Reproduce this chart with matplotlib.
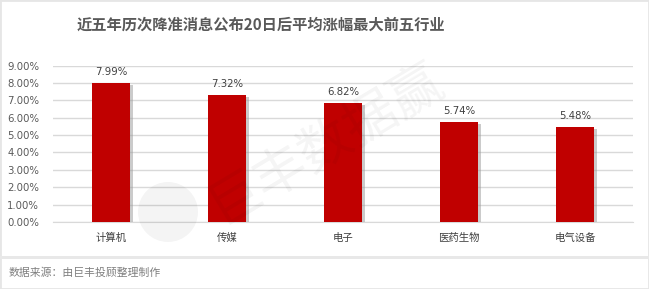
import matplotlib.pyplot as plt
import matplotlib.patheffects as pe
from matplotlib.patches import Rectangle, Ellipse

plt.rcParams['font.family'] = ['Noto Sans CJK SC', 'DejaVu Sans']

industries = ['计算机', '传媒', '电子', '医药生物', '电气设备']
avg_gain = [7.99, 7.32, 6.82, 5.74, 5.48]
y_ticks = [0, 1, 2, 3, 4, 5, 6, 7, 8, 9]

fig = plt.figure(figsize=(6.49, 2.89), dpi=100)

# outer frame and separator band
fig.patches.append(Rectangle((0, 0), 1, 1, transform=fig.transFigure,
                             fill=False, edgecolor='#e6e6e6', linewidth=2))
fig.patches.append(Rectangle((0, 1 - 259 / 289), 1, 3.5 / 289, transform=fig.transFigure,
                             facecolor='#e8e8e8', edgecolor='none'))

ax = fig.add_axes([53 / 649, 1 - 222 / 289, 580 / 649, 156.5 / 289])
x = range(len(industries))
bars = ax.bar(x, avg_gain, width=0.32, color='#c00000', zorder=3)
for b in bars:
    b.set_path_effects([pe.SimplePatchShadow(offset=(2.5, -1.5), shadow_rgbFace='#999999', alpha=0.5),
                        pe.Normal()])
for xi, v in zip(x, avg_gain):
    ax.text(xi, v + 0.35, f'{v:.2f}%', ha='center', va='bottom', fontsize=7.3,
            color='#404040', family='DejaVu Sans')

ax.set_xlim(-0.5, len(industries) - 0.5)
ax.set_ylim(0, 9)
ax.set_yticks(y_ticks)
ax.set_yticklabels([f'{t:.2f}%' for t in y_ticks], fontsize=7.3, color='#595959',
                   family='DejaVu Sans')
ax.set_xticks(list(x))
ax.set_xticklabels(industries, fontsize=7.5, color='#404040')
ax.tick_params(length=0, pad=8)
ax.tick_params(axis='y', pad=10)
ax.grid(axis='y', color='#d9d9d9', linewidth=1, zorder=0)
for s in ['top', 'right', 'left']:
    ax.spines[s].set_visible(False)
ax.spines['bottom'].set_color('#d9d9d9')

# watermark
fig.text(325 / 649, 1 - 142 / 289, '巨丰数据赢', fontsize=38, color='#000000', alpha=0.045,
         rotation=31, ha='center', va='center')
fig.patches.append(Ellipse((168 / 649, 1 - 212 / 289), 60 / 649, 60 / 289,
                           transform=fig.transFigure, facecolor='#000000', alpha=0.045,
                           edgecolor='none'))

fig.text(261 / 649, 1 - 25 / 289, '近五年历次降准消息公布20日后平均涨幅最大前五行业',
         ha='center', va='center', fontsize=11, fontweight='bold', color='#595959')
fig.text(9 / 649, 1 - 273 / 289, '数据来源：由巨丰投顾整理制作', ha='left', va='center',
         fontsize=7.8, color='#7f7f7f')

fig.savefig('out.png', dpi=100)
